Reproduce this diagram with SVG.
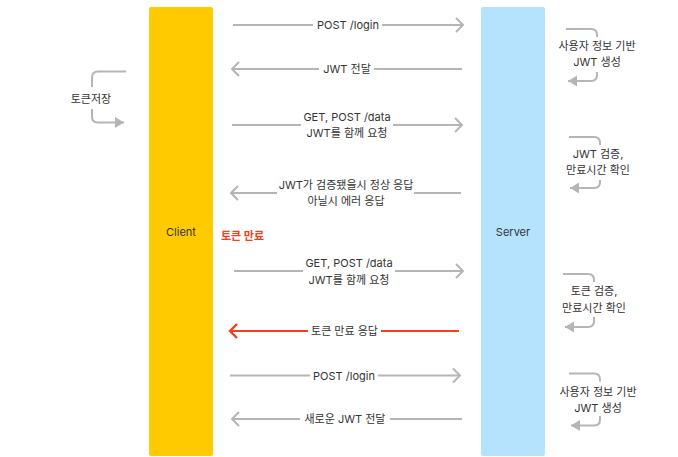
<svg xmlns="http://www.w3.org/2000/svg" width="678" height="457" viewBox="0 0 678 457">
<style>
text{font-family:"Inter","Noto Sans CJK KR","Noto Sans",sans-serif;font-size:11px;fill:#333;text-anchor:middle}
.ln{stroke:#b5b5b5;stroke-width:2;fill:none}
.red{stroke:#f5401f;stroke-width:2.2;fill:none}
.lp{stroke:#b5b5b5;stroke-width:2;fill:none}
</style>
<defs>
<marker id="chev" markerUnits="userSpaceOnUse" markerWidth="20" markerHeight="20" viewBox="-10 -10 20 20" refX="0" refY="0" orient="auto">
<path d="M-7,-7 L0,0 L-7,7" fill="none" stroke="#b5b5b5" stroke-width="2"/>
</marker>
<marker id="chevr" markerUnits="userSpaceOnUse" markerWidth="20" markerHeight="20" viewBox="-10 -10 20 20" refX="0" refY="0" orient="auto">
<path d="M-7,-7 L0,0 L-7,7" fill="none" stroke="#f5401f" stroke-width="2.4"/>
</marker>
<marker id="tri" markerUnits="userSpaceOnUse" markerWidth="20" markerHeight="20" viewBox="-12 -10 20 20" refX="0" refY="0" orient="auto">
<path d="M-9,-5.5 L0,0 L-9,5.5 Z" fill="#b5b5b5"/>
</marker>
</defs>
<rect width="678" height="457" fill="#fff"/>
<g id="client">
<rect x="149" y="7" width="64" height="449" rx="2" fill="#ffcb00"/>
<text x="181" y="236">Client</text>
</g>
<g id="server">
<rect x="481" y="7" width="64" height="449" rx="2" fill="#b5e3fd"/>
<text x="513" y="236">Server</text>
</g>
<g id="expired-label">
<text x="242.5" y="240" style="fill:#f5401f;font-weight:bold">토큰 만료</text>
</g>
<g id="connectors">
<line class="ln" x1="233" y1="25" x2="313" y2="25"/>
<line class="ln" x1="382" y1="25" x2="463" y2="25" marker-end="url(#chev)"/>
<line class="ln" x1="462" y1="69" x2="374" y2="69"/>
<line class="ln" x1="319" y1="69" x2="232" y2="69" marker-end="url(#chev)"/>
<line class="ln" x1="232" y1="125" x2="301" y2="125"/>
<line class="ln" x1="393" y1="125" x2="462" y2="125" marker-end="url(#chev)"/>
<line class="ln" x1="461" y1="193" x2="414" y2="193"/>
<line class="ln" x1="277" y1="193" x2="231" y2="193" marker-end="url(#chev)"/>
<line class="ln" x1="234" y1="271" x2="303" y2="271"/>
<line class="ln" x1="395" y1="271" x2="463" y2="271" marker-end="url(#chev)"/>
<line class="red" x1="459" y1="331" x2="381" y2="331"/>
<line class="red" x1="308" y1="331" x2="230" y2="331" marker-end="url(#chevr)"/>
<line class="ln" x1="230" y1="375.5" x2="310" y2="375.5"/>
<line class="ln" x1="378" y1="375.5" x2="460" y2="375.5" marker-end="url(#chev)"/>
<line class="ln" x1="462" y1="419" x2="390" y2="419"/>
<line class="ln" x1="300" y1="419" x2="232" y2="419" marker-end="url(#chev)"/>
<path class="lp" d="M126,71.5 H98 Q92,71.5 92,77.5 V87"/>
<path class="lp" d="M92,109 V116.5 Q92,122.5 98,122.5 H124" marker-end="url(#tri)"/>
<path class="lp" d="M566,29 H591 Q597,29 597,35 V37"/>
<path class="lp" d="M597,72 V75 Q597,81 591,81 H568" marker-end="url(#tri)"/>
<path class="lp" d="M569,137 H594 Q600,137 600,143 V145"/>
<path class="lp" d="M600,180 V182 Q600,188 594,188 H570" marker-end="url(#tri)"/>
<path class="lp" d="M563,274 H588 Q594,274 594,280 V282"/>
<path class="lp" d="M594,317 V321 Q594,327 588,327 H565" marker-end="url(#tri)"/>
<path class="lp" d="M569,373.5 H594 Q600,373.5 600,379.5 V381.5"/>
<path class="lp" d="M600,416 V419.5 Q600,425.5 594,425.5 H571" marker-end="url(#tri)"/>
</g>
<g id="labels">
<text x="348" y="29">POST /login</text>
<text x="347" y="73">JWT 전달</text>
<text x="347" y="121">GET, POST /data</text>
<text x="347" y="137">JWT를 함께 요청</text>
<text x="346" y="189">JWT가 검증됐을시 정상 응답</text>
<text x="346" y="205">아닐시 에러 응답</text>
<text x="349" y="267">GET, POST /data</text>
<text x="349" y="284">JWT를 함께 요청</text>
<text x="344.5" y="335">토큰 만료 응답</text>
<text x="344" y="379.5">POST /login</text>
<text x="345" y="423">새로운 JWT 전달</text>
<text x="91" y="103">토큰저장</text>
<text x="597" y="49.5">사용자 정보 기반</text>
<text x="597" y="66">JWT 생성</text>
<text x="598" y="158">JWT 검증,</text>
<text x="598" y="174">만료시간 확인</text>
<text x="594" y="295">토큰 검증,</text>
<text x="594" y="312">만료시간 확인</text>
<text x="598" y="395.5">사용자 정보 기반</text>
<text x="598" y="412">JWT 생성</text>
</g>
</svg>
